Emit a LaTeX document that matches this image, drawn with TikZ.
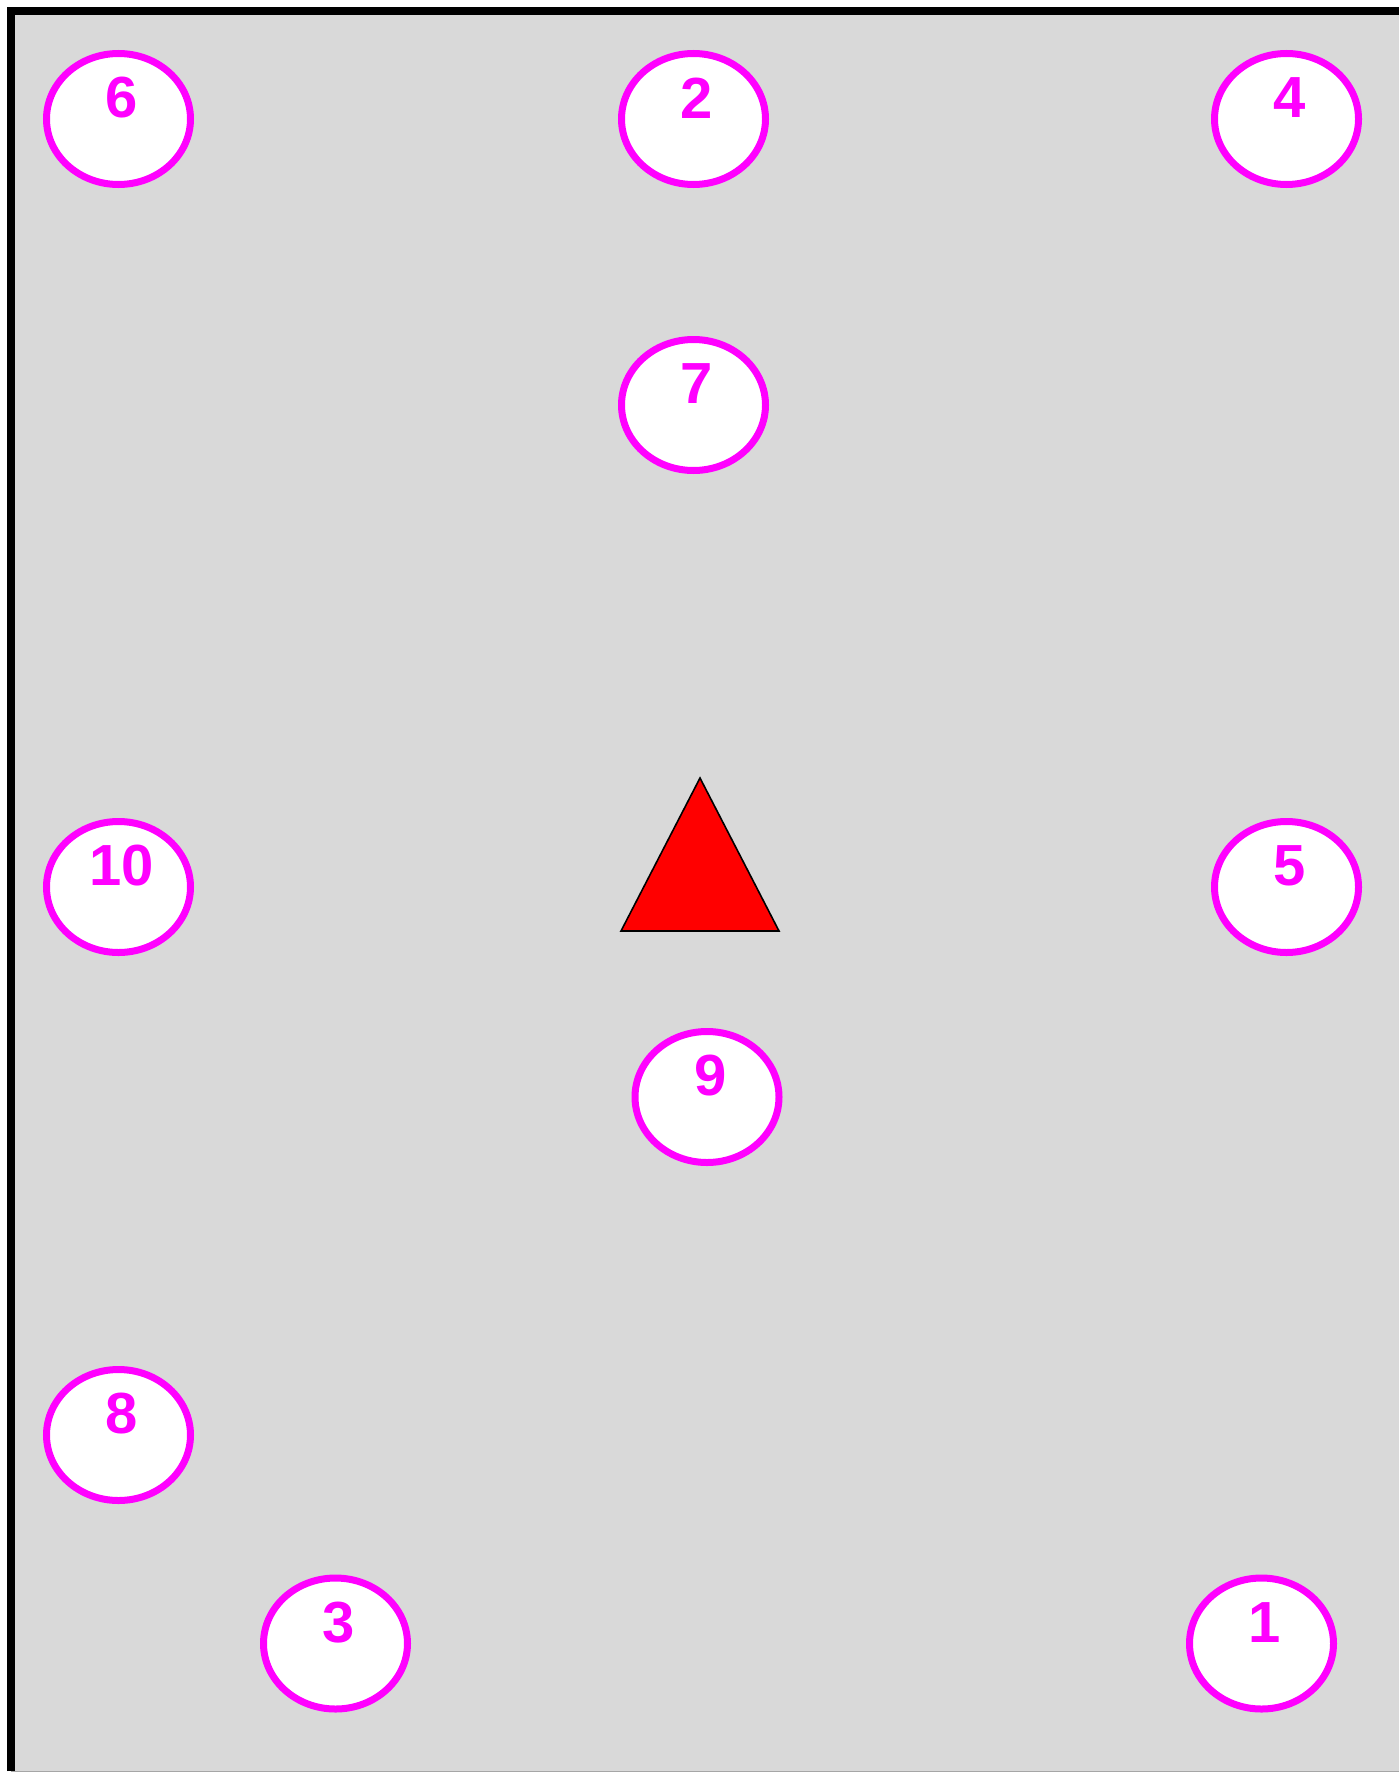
\documentclass[tikz,border=0pt]{standalone}
\usepackage{fontspec}
\setmainfont{Liberation Sans}
\usetikzlibrary{shapes.geometric,calc}
\definecolor{bggray}{HTML}{D9D9D9}
\definecolor{mag}{HTML}{FF00FF}
\tikzset{
  ball/.style={ellipse, draw=mag, fill=white, line width=5.25pt, minimum width=108pt, minimum height=98.25pt, inner sep=0pt},
  num/.style={text=mag, font=\fontsize{43.5pt}{43.5pt}\selectfont\bfseries, inner sep=0pt, anchor=center},
  tri/.style={draw=black, line width=1.2pt, fill=red, line join=miter},
}
\begin{document}
\begin{tikzpicture}[x=0.75pt, y=-0.75pt]
\useasboundingbox (0,0) rectangle (1399,1773);
\fill[white] (0,0) rectangle (1399,1773);
\fill[bggray] (11,11) rectangle (1399,1771);
\draw[gray!70, line width=0.75pt] (11,1771.5) -- (1399,1771.5);
\draw[black, line width=6pt] (11,1771) -- (11,11) -- (1399,11);
\foreach \n/\x/\y in {6/118.5/119, 2/693.5/119, 4/1286.5/119, 7/693.5/405, 10/118.5/887, 5/1286.5/887, 9/707/1097, 8/118.5/1435, 3/335.5/1643.5, 1/1261.5/1643.5}{
  \node[ball] (e\n) at (\x,\y) {};
  \node[num] (t\n) at ($(e\n)+(3.5,-21)$) {\n};
}
\coordinate (apex) at (700,778);
\coordinate (bl) at (621,931);
\coordinate (br) at (779,931);
\draw[tri] (apex) -- (br) -- (bl) -- cycle;
\end{tikzpicture}
\end{document}
